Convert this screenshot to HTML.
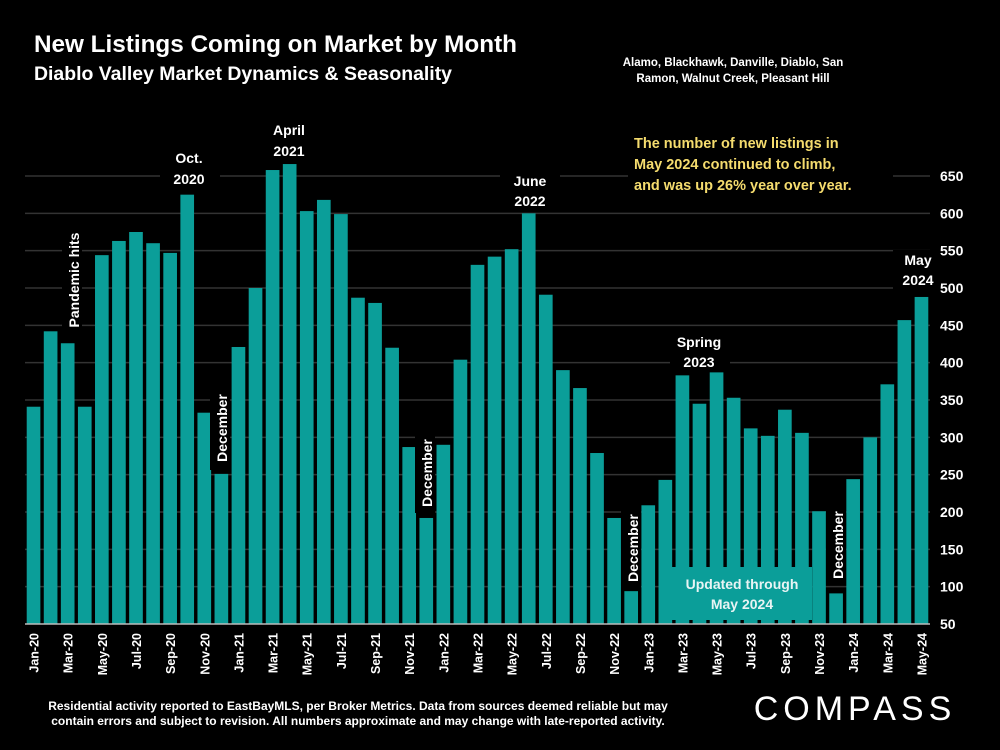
<!DOCTYPE html>
<html><head><meta charset="utf-8"><style>
body{margin:0;background:#000;}
svg{display:block;font-family:"Liberation Sans",sans-serif;font-weight:bold;}
</style></head><body>
<svg id="chart" width="1000" height="750" viewBox="0 0 1000 750">
<rect width="1000" height="750" fill="#000"/>
<text x="34" y="52" fill="#fff" font-size="24" textLength="483" lengthAdjust="spacingAndGlyphs">New Listings Coming on Market by Month</text>
<text x="34" y="80" fill="#fff" font-size="19" textLength="418" lengthAdjust="spacingAndGlyphs">Diablo Valley Market Dynamics &amp; Seasonality</text>
<text fill="#fff" font-size="11.5" text-anchor="middle"><tspan x="733" y="66">Alamo, Blackhawk, Danville, Diablo, San</tspan><tspan x="733" y="82">Ramon, Walnut Creek, Pleasant Hill</tspan></text>
<g id="grid"></g>
<g id="bars"></g>
<g id="yticks"></g>
<g id="xticks"></g>
<line x1="25" y1="624" x2="930" y2="624" stroke="#bbb" stroke-width="1.5"/>
<g fill="#fff" font-size="14" text-anchor="middle">
<rect x="160" y="148" width="60" height="40" fill="#000"/>
<text x="189" y="163">Oct.</text><text x="189" y="184">2020</text>
<rect x="262" y="120" width="56" height="40" fill="#000"/>
<text x="289" y="135">April</text><text x="289" y="156">2021</text>
<rect x="500" y="170" width="60" height="40" fill="#000"/>
<text x="530" y="186">June</text><text x="530" y="206">2022</text>
<rect x="670" y="333" width="60" height="38" fill="#000"/>
<text x="699" y="347">Spring</text><text x="699" y="367">2023</text>
<rect x="893" y="250" width="45" height="40" fill="#000"/>
<text x="918" y="265">May</text><text x="918" y="285">2024</text>
<rect x="62" y="228" width="20" height="105" fill="#000"/>
<text transform="translate(79,280) rotate(-90)">Pandemic hits</text>
<rect x="210" y="390" width="20" height="80" fill="#000"/>
<text transform="translate(227,428) rotate(-90)">December</text>
<rect x="415" y="435" width="20" height="78" fill="#000"/>
<text transform="translate(432,473) rotate(-90)">December</text>
<rect x="621" y="508" width="20" height="80" fill="#000"/>
<text transform="translate(638,548) rotate(-90)">December</text>
<rect x="826" y="505" width="20" height="80" fill="#000"/>
<text transform="translate(843,545) rotate(-90)">December</text>
</g>
<rect x="672" y="567" width="140" height="53" fill="#0b9e99"/>
<text fill="#e8f4f4" font-size="14" text-anchor="middle"><tspan x="742" y="589">Updated through</tspan><tspan x="742" y="609">May 2024</tspan></text>
<rect x="628" y="130" width="265" height="68" fill="#000"/>
<text fill="#f5dc6e" font-size="14.5"><tspan x="634" y="148">The number of new listings in</tspan><tspan x="634" y="169">May 2024 continued to climb,</tspan><tspan x="634" y="190">and was up 26% year over year.</tspan></text>
<text fill="#fff" font-size="12" text-anchor="middle"><tspan x="358" y="710">Residential activity reported to EastBayMLS, per Broker Metrics. Data from sources deemed reliable but may</tspan><tspan x="358" y="725">contain errors and subject to revision. All numbers approximate and may change with late-reported activity.</tspan></text>
<text x="855" y="720" fill="#fff" font-size="34" font-weight="normal" text-anchor="middle" letter-spacing="5">COMPASS</text>
</svg>
<script>
const months=["Jan-20","Feb-20","Mar-20","Apr-20","May-20","Jun-20","Jul-20","Aug-20","Sep-20","Oct-20","Nov-20","Dec-20","Jan-21","Feb-21","Mar-21","Apr-21","May-21","Jun-21","Jul-21","Aug-21","Sep-21","Oct-21","Nov-21","Dec-21","Jan-22","Feb-22","Mar-22","Apr-22","May-22","Jun-22","Jul-22","Aug-22","Sep-22","Oct-22","Nov-22","Dec-22","Jan-23","Feb-23","Mar-23","Apr-23","May-23","Jun-23","Jul-23","Aug-23","Sep-23","Oct-23","Nov-23","Dec-23","Jan-24","Feb-24","Mar-24","Apr-24","May-24"];
const listings=[341,442,426,341,544,563,575,560,547,625,333,251,421,500,658,666,603,618,599,487,480,420,287,192,290,404,531,542,552,600,491,390,366,279,192,94,209,243,383,345,387,353,312,302,337,306,201,91,244,300,371,457,488];
const yTicks=[50,100,150,200,250,300,350,400,450,500,550,600,650];
const NS="http://www.w3.org/2000/svg";
const yMin=50,yMax=650,y0=624,y1=176,xL=25,xR=930;
const yScale=v=>y0-(v-yMin)/(yMax-yMin)*(y0-y1);
const step=(xR-xL)/months.length;
const xScale=i=>xL+i*step;
const bw=step*0.8;
function mk(tag,attrs,parent){const e=document.createElementNS(NS,tag);for(const k in attrs)e.setAttribute(k,attrs[k]);parent.appendChild(e);return e;}
const grid=document.getElementById('grid'),bars=document.getElementById('bars'),yt=document.getElementById('yticks'),xt=document.getElementById('xticks');
yTicks.forEach(v=>{
  if(v>yMin){const l=mk('line',{x1:xL,x2:xR,y1:yScale(v),y2:yScale(v),stroke:'#333','stroke-width':1.5},grid);
  
  }
  const t=mk('text',{x:940,y:yScale(v)+5,fill:'#fff','font-size':14},yt);
  t.textContent=v;
  
  
});
listings.forEach((v,i)=>{
  const x=xScale(i)+(step-bw)/2;
  const r=mk('rect',{x:x,y:yScale(v),width:bw,height:y0-yScale(v),fill:'#0b9e99'},bars);
  
  
});
months.forEach((m,i)=>{
  if(i%2)return;
  const cx=xScale(i)+step/2+5;
  const t=mk('text',{transform:`translate(${cx},633) rotate(-90)`,fill:'#fff','font-size':12.5,'text-anchor':'end'},xt);
  t.textContent=m;
  
  
});
</script>
</body></html>
